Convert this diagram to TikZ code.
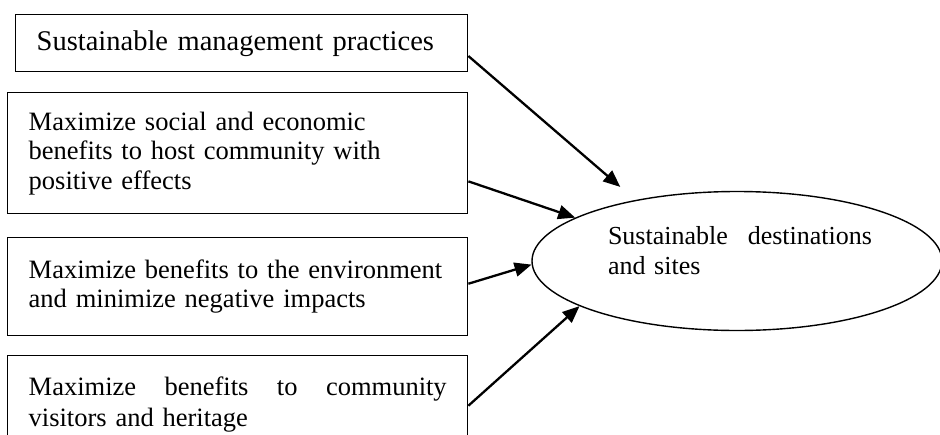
\documentclass[tikz,border=0pt]{standalone}
\usepackage{fontspec}
\setmainfont{Liberation Serif}
\usetikzlibrary{calc,shapes.geometric,arrows.meta}
\tikzset{
	factorbox/.style={draw, line width=1.4pt, anchor=north west, align=left, inner xsep=21pt, inner ysep=4pt, font=\fontsize{26.5}{29.5}\selectfont},
	destnode/.style={draw, ellipse, line width=1.4pt, minimum width=410pt, minimum height=139pt, inner sep=0pt},
	arr/.style={line width=2.3pt, -{Triangle[length=17pt,width=14pt]}}
}
\begin{document}
\begin{tikzpicture}[x=1pt, y=-1pt]
			%%%%% START %%%%%
			\clip (0, 0) rectangle (940, 434);
			
			\node[factorbox, text width=410pt, minimum height=57pt, font=\fontsize{28.5}{31}\selectfont] (mgmt) at (15, 14) {Sustainable management practices};
			\node[factorbox, text width=418pt, minimum height=121pt] (social) at (7, 92) {Maximize social and economic\\benefits to host community with\\positive effects};
			\node[factorbox, text width=418pt, minimum height=98pt] (envir) at (7, 237) {Maximize benefits to the environment\\and minimize negative impacts};
			\node[factorbox, text width=418pt, minimum height=98pt, font=\fontsize{26.5}{31}\selectfont] (herit) at (7, 355) {Maximize \hfill benefits \hfill to \hfill community\\visitors and heritage};
			
			\node[destnode] (dest) at (737, 261) {};
			\node[inner sep=0pt, text width=264pt, align=left, font=\fontsize{26}{30}\selectfont] (destlabel) at (740, 250.5) {Sustainable \hfill destinations\\and sites};
			
			\draw[arr, shorten >=20pt] ($(mgmt.north east)!0.72!(mgmt.south east)$) -- (dest.149);
			\draw[arr] ($(social.north east)!0.73!(social.south east)$) -- (dest.165);
			\draw[arr] ($(envir.north east)!0.47!(envir.south east)$) -- (dest.181);
			\draw[arr] ($(herit.north east)!0.51!(herit.south east)$) -- (dest.196);
			%%%%% END %%%%%
\end{tikzpicture}
\end{document}
